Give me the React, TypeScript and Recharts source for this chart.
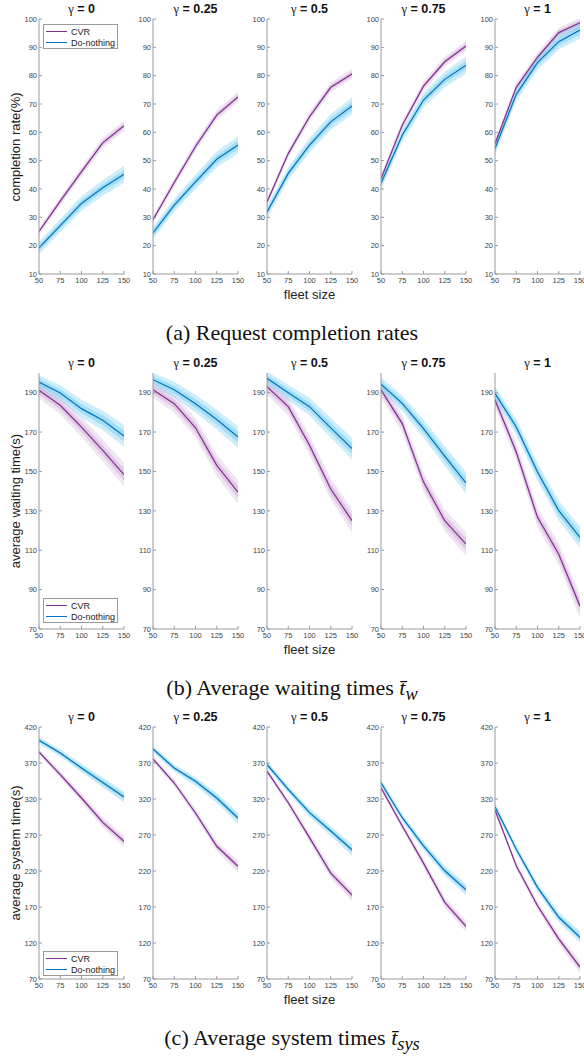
import React from "react";
import { ComposedChart, Line, Area, XAxis, YAxis } from "recharts";

// fleet sizes on the x axis, one panel per gamma
const fleetSizes = [50, 75, 100, 125, 150];
const gammas = ["0", "0.25", "0.5", "0.75", "1"];

// (a) completion rate (%), one row per gamma
const rateCvr = [
  [25, 35.7, 46.1, 56.3, 62.3],
  [29.2, 42.3, 55, 66.1, 72.5],
  [35.4, 52.5, 65.5, 75.9, 80.6],
  [43.7, 62.5, 76.3, 84.9, 90.5],
  [56, 75.9, 86.5, 95.2, 98.7],
];
const rateDoNothing = [
  [19.2, 27.1, 34.9, 40.4, 45.2],
  [24.5, 34.3, 42.5, 50.5, 55.5],
  [31.9, 45.5, 55.5, 63.7, 69.3],
  [42, 59, 71.4, 78.7, 83.7],
  [54.3, 73.4, 84.6, 92, 96.1],
];
const rateTicks = [10, 20, 30, 40, 50, 60, 70, 80, 90, 100];

// (b) average waiting time (s)
const waitCvr = [
  [191.2, 183.6, 172.5, 160.7, 148.4],
  [191.5, 184.4, 172.2, 153.1, 139.5],
  [193, 182.9, 163.3, 141.1, 125],
  [191.4, 174.3, 144.6, 125, 113.1],
  [186.3, 159.9, 126.7, 108, 81.6],
];
const waitDoNothing = [
  [195.4, 189.8, 181.9, 176, 168],
  [196.6, 191.5, 184.4, 176.4, 167.5],
  [197.3, 190, 182.9, 172.1, 161.6],
  [194.3, 184.6, 171.8, 157.8, 144.2],
  [189.7, 172.6, 149.7, 130.1, 116.5],
];
const waitTicks = [70, 90, 110, 130, 150, 170, 190];

// (c) average system time (s)
const systemCvr = [
  [385.3, 353.8, 321.4, 287.6, 261.2],
  [375.6, 342.2, 300.6, 254.3, 226.5],
  [358.7, 314.8, 266.4, 217, 186.6],
  [335.6, 282.5, 230.9, 176.5, 143.2],
  [304.7, 227.2, 171.8, 125.7, 86.5],
];
const systemDoNothing = [
  [401.5, 383.9, 363, 343, 322.8],
  [389.4, 363, 344.5, 321.4, 293.6],
  [367.9, 333.3, 301, 275.6, 249.3],
  [342.5, 294, 254.9, 220.3, 194],
  [309.3, 250.3, 197.2, 155.7, 128],
];
const systemTicks = [70, 120, 170, 220, 270, 320, 370, 420];

// half widths of the shaded bands, by fleet size
const rateCvrSpread = [1.3, 1.5, 1.7, 1.8, 1.8];
const rateDoNothingSpread = [2.2, 2.3, 2.6, 2.8, 3];
const waitCvrSpread = [4, 4.5, 5, 5.5, 6];
const waitDoNothingSpread = [3.5, 4, 4.5, 5, 5.5];
const systemCvrSpread = [4, 5, 6, 7, 8];
const systemDoNothingSpread = [5, 5, 6, 7, 8];

const CVR_COLOR = "#7E2F8E";
const DN_COLOR = "#0072BD";
const CVR_BAND = "#A45BB5";
const DN_BAND = "#4DBEEE";
const AXIS = "#9a9a9a";
const TEXT = "#444";

const PLOT_LEFTS = [39, 153, 267, 381, 495];
const PLOT_W = 85;
const Y_W = 36;
const X_H = 14;
const M_TOP = 4;
const M_RIGHT = 10;

const rows = [
  {
    ylabel: "completion rate(%)",
    cvr: rateCvr,
    dn: rateDoNothing,
    cvrSpread: rateCvrSpread,
    dnSpread: rateDoNothingSpread,
    ticks: rateTicks,
    domain: [10, 100],
    top: 19,
    height: 255,
    legendTop: 24,
    caption: <>(a) Request completion rates</>,
  },
  {
    ylabel: "average waiting time(s)",
    cvr: waitCvr,
    dn: waitDoNothing,
    cvrSpread: waitCvrSpread,
    dnSpread: waitDoNothingSpread,
    ticks: waitTicks,
    domain: [70, 200],
    top: 373,
    height: 256,
    legendTop: 598,
    caption: (
      <>
        (b) Average waiting times <i>{"t\u0304"}</i>
        <sub><i>w</i></sub>
      </>
    ),
  },
  {
    ylabel: "average system time(s)",
    cvr: systemCvr,
    dn: systemDoNothing,
    cvrSpread: systemCvrSpread,
    dnSpread: systemDoNothingSpread,
    ticks: systemTicks,
    domain: [70, 420],
    top: 727,
    height: 252,
    legendTop: 951,
    caption: (
      <>
        (c) Average system times <i>{"t\u0304"}</i>
        <sub><i>sys</i></sub>
      </>
    ),
  },
];

const noLabel = () => <g />;

function Panel({ row, idx }: { row: any; idx: number }) {
  const data = fleetSizes.map((x, i) => {
    const c = row.cvr[idx][i];
    const d = row.dn[idx][i];
    const cs = row.cvrSpread[i];
    const ds = row.dnSpread[i];
    return {
      x,
      cvr: c,
      dn: d,
      cvrOuter: [c - cs, c + cs],
      cvrInner: [c - cs * 0.5, c + cs * 0.5],
      dnOuter: [d - ds, d + ds],
      dnInner: [d - ds * 0.5, d + ds * 0.5],
    };
  });
  const tickStyle = { fontSize: 7.5, fill: TEXT };
  return (
    <div style={{ position: "absolute", left: PLOT_LEFTS[idx] - Y_W, top: row.top - M_TOP }}>
      <ComposedChart
        width={Y_W + PLOT_W + M_RIGHT}
        height={M_TOP + row.height + X_H}
        data={data}
        margin={{ top: M_TOP, right: M_RIGHT, left: 0, bottom: 0 }}
      >
        <XAxis
          xAxisId="b"
          dataKey="x"
          type="number"
          domain={[50, 150]}
          ticks={fleetSizes}
          interval={0}
          allowDataOverflow
          height={X_H}
          stroke={AXIS}
          tickSize={-3}
          tickMargin={7}
          tick={tickStyle}
        />
        <XAxis
          xAxisId="t"
          orientation="top"
          type="number"
          domain={[50, 150]}
          ticks={fleetSizes}
          interval={0}
          allowDataOverflow
          height={0}
          stroke={AXIS}
          tickSize={-3}
          tick={noLabel}
        />
        <YAxis
          yAxisId="l"
          type="number"
          domain={row.domain}
          ticks={row.ticks}
          interval={0}
          allowDataOverflow
          width={Y_W}
          stroke={AXIS}
          tickSize={-3}
          tickMargin={5}
          tick={tickStyle}
        />
        <YAxis
          yAxisId="r"
          orientation="right"
          type="number"
          domain={row.domain}
          ticks={row.ticks}
          interval={0}
          allowDataOverflow
          width={0}
          stroke={AXIS}
          tickSize={-3}
          tick={noLabel}
        />
        <Area xAxisId="b" yAxisId="l" type="linear" dataKey="cvrOuter" stroke="none" fill={CVR_BAND} fillOpacity={0.16} isAnimationActive={false} />
        <Area xAxisId="b" yAxisId="l" type="linear" dataKey="cvrInner" stroke="none" fill={CVR_BAND} fillOpacity={0.2} isAnimationActive={false} />
        <Area xAxisId="b" yAxisId="l" type="linear" dataKey="dnOuter" stroke="none" fill={DN_BAND} fillOpacity={0.28} isAnimationActive={false} />
        <Area xAxisId="b" yAxisId="l" type="linear" dataKey="dnInner" stroke="none" fill={DN_BAND} fillOpacity={0.32} isAnimationActive={false} />
        <Line xAxisId="b" yAxisId="l" type="linear" dataKey="cvr" stroke={CVR_COLOR} strokeWidth={1.2} dot={false} isAnimationActive={false} />
        <Line xAxisId="b" yAxisId="l" type="linear" dataKey="dn" stroke={DN_COLOR} strokeWidth={1.2} dot={false} isAnimationActive={false} />
      </ComposedChart>
    </div>
  );
}

function LegendBox({ top }: { top: number }) {
  const items = [
    ["CVR", CVR_COLOR],
    ["Do-nothing", DN_COLOR],
  ];
  return (
    <div
      style={{
        position: "absolute",
        left: 43,
        top,
        width: 73,
        height: 23,
        border: `1px solid ${AXIS}`,
        background: "#fff",
        fontSize: 9,
        color: "#222",
      }}
    >
      {items.map(([name, color], i) => (
        <div
          key={name}
          style={{ position: "absolute", left: 2, top: 1 + i * 11, height: 11, display: "flex", alignItems: "center" }}
        >
          <span style={{ display: "inline-block", width: 21, height: 1.2, background: color, marginRight: 4 }} />
          {name}
        </div>
      ))}
    </div>
  );
}

export default function App() {
  return (
    <div
      style={{
        position: "absolute",
        left: 0,
        top: 0,
        width: 584,
        height: 1059,
        background: "#fff",
        fontFamily: "'Liberation Sans', Arial, sans-serif",
        overflow: "hidden",
      }}
    >
      {rows.map((row, r) => {
        const bottom = row.top + row.height;
        return (
          <React.Fragment key={r}>
            {gammas.map((g, i) => (
              <React.Fragment key={g}>
                <div
                  style={{
                    position: "absolute",
                    left: PLOT_LEFTS[i] - 10,
                    width: PLOT_W + 20,
                    top: row.top - 17,
                    textAlign: "center",
                    fontSize: 12.5,
                    fontWeight: "bold",
                    color: "#111",
                    lineHeight: "14px",
                  }}
                >
                  <span style={{ fontFamily: "'Liberation Serif', serif", fontWeight: "normal" }}>γ</span> = {g}
                </div>
                <Panel row={row} idx={i} />
              </React.Fragment>
            ))}
            <div
              style={{
                position: "absolute",
                left: 15,
                top: row.top + row.height / 2,
                transform: "translate(-50%, -50%) rotate(-90deg)",
                whiteSpace: "nowrap",
                fontSize: 13,
                color: "#222",
              }}
            >
              {row.ylabel}
            </div>
            <div
              style={{
                position: "absolute",
                left: PLOT_LEFTS[2],
                width: PLOT_W,
                top: bottom + 13,
                textAlign: "center",
                fontSize: 13,
                color: "#222",
                lineHeight: "15px",
              }}
            >
              fleet size
            </div>
            <LegendBox top={row.legendTop} />
            <div
              style={{
                position: "absolute",
                left: 0,
                width: 584,
                top: bottom + 46,
                textAlign: "center",
                fontFamily: "'Liberation Serif', 'Times New Roman', serif",
                fontSize: 22,
                color: "#111",
                lineHeight: "26px",
              }}
            >
              {row.caption}
            </div>
          </React.Fragment>
        );
      })}
    </div>
  );
}
